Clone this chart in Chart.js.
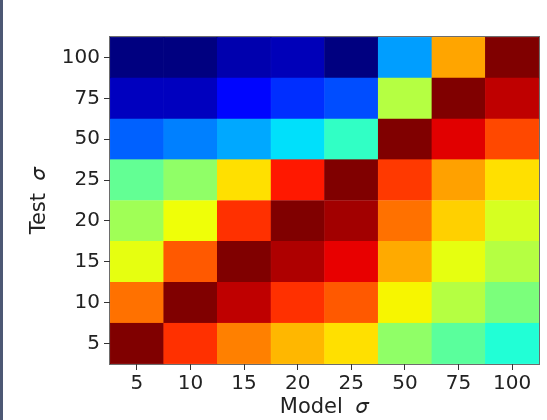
<!DOCTYPE html>
<html>
<head>
<meta charset="utf-8">
<script src="https://cdn.jsdelivr.net/npm/chart.js@4.4.1/dist/chart.umd.min.js"></script>
<style>
  html, body { margin: 0; padding: 0; background: #fff; }
  #wrap { position: relative; width: 547px; height: 420px; }
  #edge { position: absolute; left: 0; top: 0; width: 3px; height: 420px; background: #4d5874; }
</style>
</head>
<body>
<div id="wrap">
  <canvas id="heat" width="547" height="420"></canvas>
  <div id="edge"></div>
</div>
<script>
// model sigma along x, test sigma along y (bottom row first)
const modelSigma = ['5', '10', '15', '20', '25', '50', '75', '100'];
const testSigma = ['5', '10', '15', '20', '25', '50', '75', '100'];

// normalised score per test row (0 = dark blue, 1 = dark red)
const row5 = [1.0, 0.859, 0.775, 0.716, 0.673, 0.525, 0.46, 0.39];
const row10 = [0.79, 1.0, 0.945, 0.859, 0.816, 0.65, 0.57, 0.50];
const row15 = [0.63, 0.816, 1.0, 0.96, 0.91, 0.73, 0.63, 0.57];
const row20 = [0.545, 0.64, 0.859, 1.0, 0.97, 0.79, 0.69, 0.61];
const row25 = [0.47, 0.525, 0.673, 0.885, 1.0, 0.85, 0.74, 0.673];
const row50 = [0.22, 0.25, 0.29, 0.345, 0.41, 1.0, 0.916, 0.834];
const row75 = [0.055, 0.055, 0.13, 0.17, 0.2, 0.57, 1.0, 0.945];
const row100 = [0.0, 0.0, 0.04, 0.05, 0.0, 0.28, 0.735, 1.0];
const rows = [row5, row10, row15, row20, row25, row50, row75, row100];

// matplotlib 'jet'
const jetR = [[0, 0], [0.35, 0], [0.66, 1], [0.89, 1], [1, 0.5]];
const jetG = [[0, 0], [0.125, 0], [0.375, 1], [0.64, 1], [0.91, 0], [1, 0]];
const jetB = [[0, 0.5], [0.11, 1], [0.34, 1], [0.65, 0], [1, 0]];

let interp = (pts, v) => {
    for (let i = 1; i < pts.length; i++) {
        if (v <= pts[i][0]) {
            const [x0, y0] = pts[i - 1];
            const [x1, y1] = pts[i];
            return y0 + (y1 - y0) * (v - x0) / (x1 - x0);
        }
    }
    return pts[pts.length - 1][1];
};

let jet = (v) => {
    v = Math.min(1, Math.max(0, v));
    const r = Math.round(interp(jetR, v) * 255);
    const g = Math.round(interp(jetG, v) * 255);
    const b = Math.round(interp(jetB, v) * 255);
    return `rgb(${r}, ${g}, ${b})`;
};

const datasets = rows.map((vals, r) => ({
    label: testSigma[r],
    data: vals.map(() => [r, r + 1]),
    backgroundColor: vals.map(jet),
    borderColor: vals.map(jet),
    borderWidth: 0.5,
    borderSkipped: false,
    grouped: false,
    barPercentage: 1,
    categoryPercentage: 1
}));

// frame round the plot, like matplotlib spines
const frame = {
    id: 'frame',
    afterDatasetsDraw(chart) {
        const {ctx, chartArea: a} = chart;
        ctx.save();
        ctx.strokeStyle = 'rgba(60, 60, 60, 0.75)';
        ctx.lineWidth = 1;
        ctx.strokeRect(Math.round(a.left) - 0.5, Math.round(a.top) - 0.5,
            Math.round(a.right - a.left) + 1, Math.round(a.bottom - a.top) + 1);
        ctx.restore();
    }
};

const tickFont = { family: 'DejaVu Sans', size: 20 };
const titleFont = { family: 'DejaVu Sans', size: 21 };
const textColor = '#222';

const config = {
    type: 'bar',
    data: {
        labels: modelSigma,
        datasets: datasets
    },
    options: {
        responsive: false,
        animation: false,
        layout: {
            padding: { left: 0, top: 37, right: 8, bottom: 0 }
        },
        plugins: {
            legend: { display: false },
            tooltip: { enabled: false }
        },
        scales: {
            x: {
                grid: {
                    display: true,
                    drawOnChartArea: false,
                    offset: false,
                    tickLength: 6,
                    tickColor: '#333'
                },
                border: { display: false },
                ticks: { font: tickFont, color: textColor, padding: 2, maxRotation: 0 },
                title: {
                    display: true,
                    text: 'Model  𝜎',
                    font: titleFont,
                    color: textColor,
                    padding: { top: 0, bottom: 0 }
                },
                afterFit: (scale) => { scale.height = 56; }
            },
            y: {
                type: 'linear',
                min: 0,
                max: 8,
                grid: {
                    display: true,
                    drawOnChartArea: false,
                    tickLength: 6,
                    tickColor: '#333'
                },
                border: { display: false },
                afterBuildTicks: (scale) => {
                    scale.ticks = testSigma.map((_, i) => ({ value: i + 0.5 }));
                },
                ticks: {
                    font: tickFont,
                    color: textColor,
                    padding: 4,
                    callback: (value) => testSigma[Math.floor(value)]
                },
                title: {
                    display: true,
                    text: 'Test  𝜎',
                    font: titleFont,
                    color: textColor,
                    padding: { top: 27, bottom: 0 }
                },
                afterFit: (scale) => { scale.width = 110; }
            }
        }
    },
    plugins: [frame]
};

const heatChart = new Chart(document.getElementById('heat'), config);
</script>
</body>
</html>
